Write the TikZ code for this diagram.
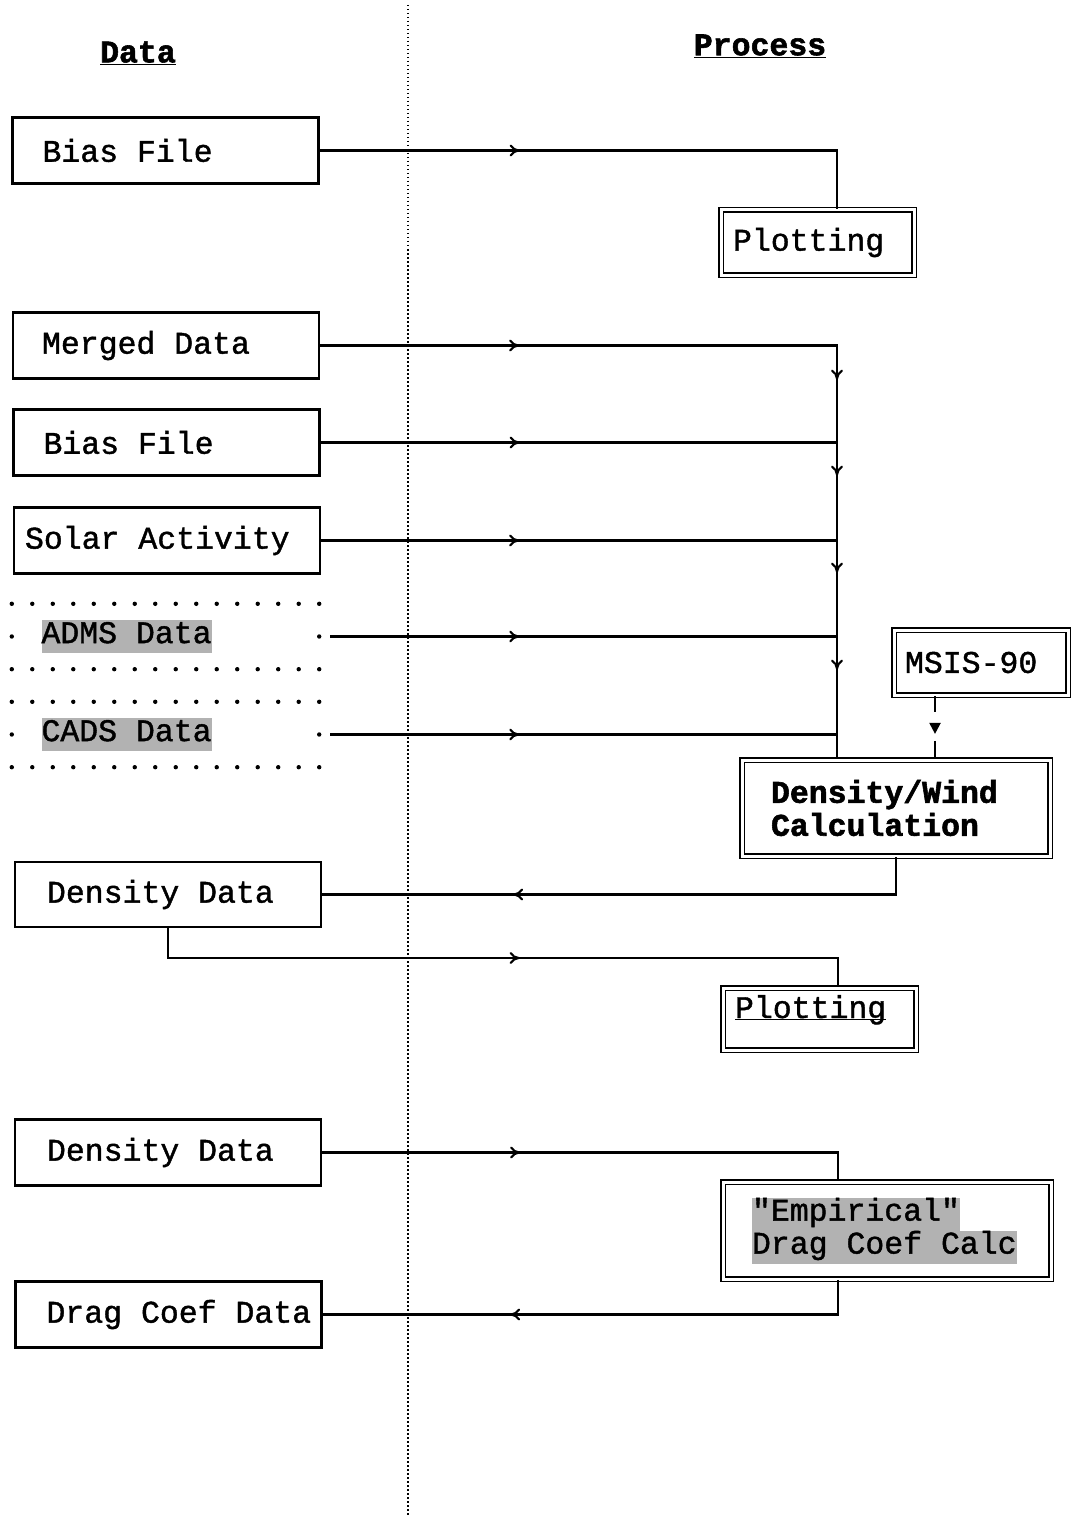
\documentclass[tikz,border=0pt]{standalone}
\usepackage{fontspec}
\newfontfamily\mono{Liberation Mono}[UprightFeatures={FakeBold=1.3},BoldFeatures={FakeBold=1.8}]
\usetikzlibrary{arrows.meta,decorations.markings,calc}
\newcommand\graybox[1]{{\setlength{\fboxsep}{0pt}\colorbox{black!30}{\strut #1}}}
\newcommand\diagfont{\mono\fontsize{31.5}{33}\selectfont}
\tikzset{
  smallarr/.tip={To[length=10pt,width=12pt]},
  conn/.style={line width=2.1pt},
  sepline/.style={line width=1.4pt, dash pattern=on 1.5pt off 2.5pt},
  databox/.style={draw, line width=2.2pt, minimum width=306pt, minimum height=66pt,
    text width=300pt, align=left, inner xsep=3pt, inner ysep=0pt},
  dotbox/.style={minimum width=307pt, minimum height=65pt,
    text width=300pt, align=left, inner xsep=3pt, inner ysep=0pt},
  procbox/.style={draw, line width=1.8pt, double, double distance=3pt,
    align=left, inner sep=0pt},
  arrowat/.style={postaction={decorate},
    decoration={markings, mark=at position #1 with {\arrow{smallarr}}}},
  dotmark/.style={fill=black},
}
\begin{document}
\begin{tikzpicture}[x=1pt,y=-1pt,
  every node/.style={font=\diagfont,
    execute at begin node={\spaceskip=0.6em\xspaceskip=0.6em\relax}}]
\useasboundingbox (0,0) rectangle (1074,1522);

% separator
\draw[sepline] (408,5) -- (408,1515);

% headings
\node (hdata) at (138,53) {\bfseries\underline{Data}};
\node (hproc) at (760,46) {\bfseries\underline{Process}};

% data column
\node[databox] (biasA)  at (165.5,150.5) {\hspace*{27pt}Bias File};
\node[databox] (merged) at (166,345.5)   {\hspace*{26pt}Merged Data};
\node[databox] (biasB)  at (166.5,442.5) {\hspace*{27pt}Bias File};
\node[databox] (solar)  at (167,540.5)   {\hspace*{8pt}Solar Activity};
\node[dotbox]  (adms)   at (165.5,636.5) {\hspace*{26pt}\graybox{ADMS Data}};
\node[dotbox]  (cads)   at (165.5,734.5) {\hspace*{26pt}\graybox{CADS Data}};
\node[databox, minimum height=65pt] (dens1) at (168,894.5) {\hspace*{29pt}Density Data};
\node[databox] (dens2)  at (168,1152.5)  {\hspace*{29pt}Density Data};
\node[databox] (drag)   at (168.5,1314.5){\hspace*{28pt}Drag Coef Data};

% dotted frames of ADMS / CADS
\foreach \b in {adms,cads}{
  \foreach \i in {0,...,15}{
    \fill[dotmark] ($(\b.north west)!\i/15!(\b.north east)$) circle (2.2pt);
    \fill[dotmark] ($(\b.south west)!\i/15!(\b.south east)$) circle (2.2pt);
  }
  \fill[dotmark] (\b.west) circle (2.2pt);
  \fill[dotmark] (\b.east) circle (2.2pt);
}

% process column
\node[procbox, minimum width=193pt, minimum height=65pt, text width=169pt] (plot1) at (817.5,242.5) {Plotting};
\node[procbox, minimum width=174pt, minimum height=65pt, text width=152pt] (msis) at (981,662.5) {MSIS-90};
\node[procbox, minimum width=308pt, minimum height=96pt, text width=250pt] (dw) at (896,808) {\bfseries Density/Wind\\Calculation};
\node[procbox, minimum width=193pt, minimum height=62pt, text width=169pt] (plot2) at (819.5,1019) {\underline{\smash{Plotting}}};
\node[procbox, minimum width=328pt, minimum height=97pt, text width=270pt] (emp) at (887,1230.5) {\graybox{"Empirical"}\\\graybox{Drag Coef Calc}};

% helper coordinates
\coordinate (trunk) at (837,0);
\coordinate (tE) at (838,0);
\coordinate (tM) at (935,0);
\coordinate (j2) at (838,958);

% connectors
\draw[conn, arrowat=200pt] (biasA.east) -| (trunk |- plot1.north);
\draw[conn, postaction={decorate}, decoration={markings,
    mark=at position 199pt with {\arrow{smallarr}},
    mark=at position 551pt with {\arrow{smallarr}},
    mark=at position 647pt with {\arrow{smallarr}},
    mark=at position 744pt with {\arrow{smallarr}},
    mark=at position 841pt with {\arrow{smallarr}}}]
  (merged.east) -| (trunk |- dw.north);
\draw[conn, arrowat=199pt] (biasB.east) -- (biasB.east -| trunk);
\draw[conn, arrowat=198pt] (solar.east) -- (solar.east -| trunk);
\draw[conn, arrowat=189pt] ([xshift=11pt]adms.east) -- (adms.east -| trunk);
\draw[conn, arrowat=189pt] ([xshift=11pt]cads.east) -- (cads.east -| trunk);
\draw[conn, dash pattern=on 16pt off 29pt on 20pt, postaction={decorate},
  decoration={markings, mark=at position 38pt with {\arrow{Triangle[length=11pt,width=11pt]}}}]
  (tM |- msis.south) -- (tM |- dw.north);
\draw[conn, arrowat=420.5pt] (dw.south) |- (dens1.east);
\draw[conn, arrowat=381.5pt] (dens1.south) |- (j2) -- (j2 |- plot2.north);
\draw[conn, arrowat=198pt] (dens2.east) -| (tE |- emp.north);
\draw[conn, arrowat=362.5pt] (tE |- emp.south) |- (drag.east);
\end{tikzpicture}
\end{document}
